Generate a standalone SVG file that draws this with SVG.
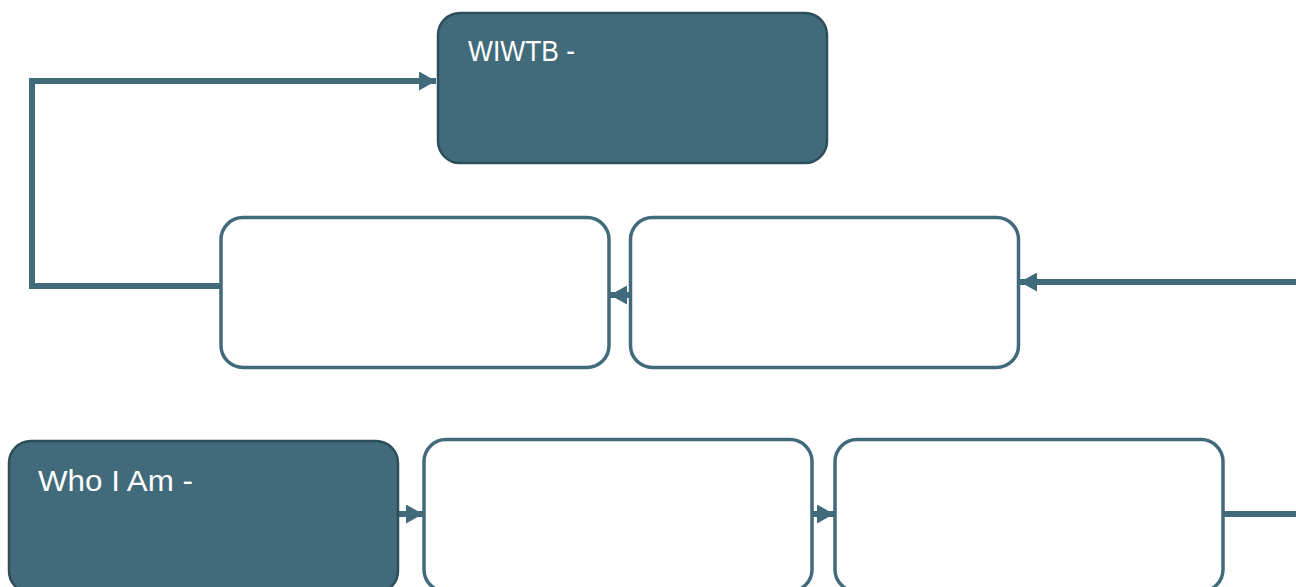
<svg xmlns="http://www.w3.org/2000/svg" width="1296" height="587" viewBox="0 0 1296 587">
<style>
.dark{fill:#416a7a;stroke:#2d4f5c;stroke-width:2.5}
.light{fill:#ffffff;stroke:#416a7a;stroke-width:3.5}
.conn{fill:none;stroke:#416a7a;stroke-width:6}
.lbl{font-family:"Liberation Sans",Arial,sans-serif;font-size:29px;fill:#ffffff}
</style>
<defs>
<marker id="ah" markerUnits="userSpaceOnUse" markerWidth="18" markerHeight="19" refX="17" refY="9.5" orient="auto">
<path d="M0,0 L17,9.5 L0,19 z" fill="#416a7a"/>
</marker>
</defs>
<rect width="1296" height="587" fill="#ffffff"/>
<g id="connectors">
<path class="conn" d="M220,286 H32 V81 H436" marker-end="url(#ah)"/>
<path class="conn" d="M630,295 H610" marker-end="url(#ah)"/>
<path class="conn" d="M1296,282 H1020" marker-end="url(#ah)"/>
<path class="conn" d="M398,514 H423" marker-end="url(#ah)"/>
<path class="conn" d="M813,514 H834" marker-end="url(#ah)"/>
<path class="conn" d="M1224,514 H1296"/>
</g>
<g id="wiwtb">
<rect class="dark" x="438" y="13" width="389" height="150" rx="22"/>
<text class="lbl" x="468" y="61" textLength="107" lengthAdjust="spacingAndGlyphs">WIWTB -</text>
</g>
<g id="box-mid-left">
<rect class="light" x="221" y="217.5" width="388" height="150" rx="22"/>
</g>
<g id="box-mid-right">
<rect class="light" x="630.5" y="217.5" width="388" height="150" rx="22"/>
</g>
<g id="who-i-am">
<rect class="dark" x="9" y="441" width="389" height="152" rx="22"/>
<text class="lbl" x="38" y="491" textLength="155" lengthAdjust="spacingAndGlyphs">Who I Am -</text>
</g>
<g id="box-bottom-mid">
<rect class="light" x="424" y="439.5" width="388" height="152" rx="22"/>
</g>
<g id="box-bottom-right">
<rect class="light" x="835" y="439.5" width="388" height="152" rx="22"/>
</g>
</svg>
